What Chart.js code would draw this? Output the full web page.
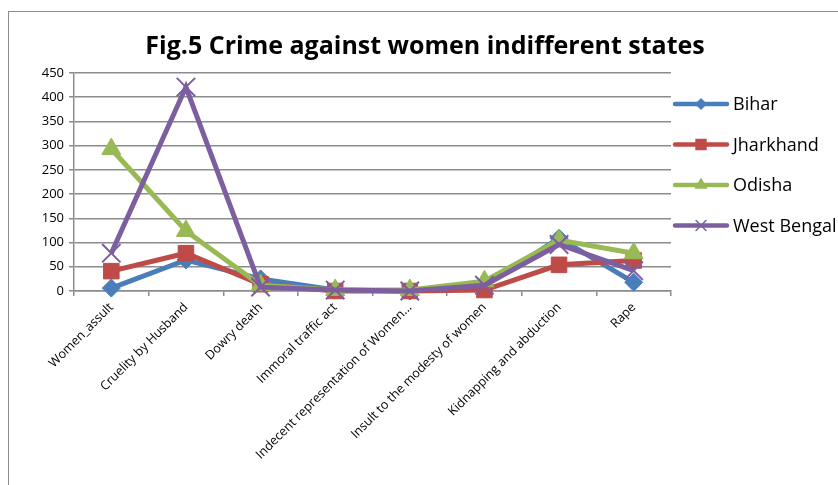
<!DOCTYPE html>
<html lang="en">
<head>
  <meta charset="UTF-8">
  <title>Crime against women</title>
  <script src="https://cdn.jsdelivr.net/npm/chart.js"></script>
  <style>
    body {
      margin: 0;
      background: #ffffff;
      overflow: hidden;
    }
    #wrap {
      position: relative;
      width: 838px;
      height: 485px;
    }
    #frame {
      position: absolute;
      left: 8px;
      top: 11px;
      width: 900px;
      height: 500px;
      border: 1.5px solid #8c8c8c;
    }
    canvas {
      position: absolute;
      left: 0;
      top: 0;
    }
  </style>
</head>
<body>
<div id="wrap">
  <div id="frame"></div>
  <canvas id="crimeChart" width="838" height="485"></canvas>
</div>

<script>
  const chartTitle = "Fig.5 Crime against women indifferent states";
  const categories = [
    "Women_assult",
    "Cruelity by Husband",
    "Dowry death",
    "Immoral traffic act",
    "Indecent representation of Women...",
    "Insult to the modesty of women",
    "Kidnapping and abduction",
    "Rape"
  ];
  const seriesNames = ["Bihar", "Jharkhand", "Odisha", "West Bengal"];
  const bihar      = [6, 64, 25, 2, 0, 10, 109, 18];
  const jharkhand  = [41, 78, 14, 0, 0, 2, 54, 63];
  const odisha     = [293, 124, 12, 2, 2, 20, 105, 78];
  const westBengal = [78, 421, 8, 2, 0, 12, 96, 42];
  const yTicks = [0, 50, 100, 150, 200, 250, 300, 350, 400, 450];

  const colors = ['#4a7ebb', '#be4b48', '#98b954', '#7d5fa0'];
  const markers = ['rectRot', 'rect', 'triangle', 'crossRot'];
  const markerSize = [9, 11, 11, 13];
  const legendMarkerSize = [5, 7, 6, 7];
  const allValues = [bihar, jharkhand, odisha, westBengal];

  const datasets = seriesNames.map((name, i) => ({
    label: name,
    data: allValues[i],
    borderColor: colors[i],
    backgroundColor: colors[i],
    borderWidth: 5,
    pointStyle: markers[i],
    pointRadius: markerSize[i],
    pointBorderWidth: markers[i] === 'crossRot' ? 2 : 1,
    pointBorderColor: colors[i],
    pointBackgroundColor: colors[i],
    tension: 0,
    clip: false,
    order: seriesNames.length - i
  }));

  // title and legend drawn by hand so they sit where the picture has them
  const decorations = {
    id: 'decorations',
    afterDraw(chart) {
      const ctx = chart.ctx;
      ctx.save();
      ctx.fillStyle = '#000';
      ctx.font = 'bold 25px "Open Sans"';
      ctx.textAlign = 'center';
      ctx.textBaseline = 'middle';
      ctx.fillText(chartTitle, 425, 47);

      ctx.font = '18px "Open Sans"';
      ctx.textAlign = 'left';
      chart.data.datasets.forEach((ds, i) => {
        const y = 104 + i * 40.5;
        ctx.strokeStyle = ds.borderColor;
        ctx.fillStyle = ds.borderColor;
        ctx.lineWidth = 4.5;
        ctx.lineCap = 'round';
        ctx.beginPath();
        ctx.moveTo(675, y);
        ctx.lineTo(727, y);
        ctx.stroke();
        ctx.lineWidth = 1.5;
        Chart.helpers.drawPoint(ctx, {
          pointStyle: ds.pointStyle,
          radius: legendMarkerSize[i],
          borderWidth: 1.5
        }, 701, y);
        ctx.fillStyle = '#000';
        ctx.fillText(ds.label, 733, y + 1);
      });
      ctx.restore();
    }
  };

  const ctx = document.getElementById("crimeChart").getContext("2d");
  new Chart(ctx, {
    type: 'line',
    data: {
      labels: categories,
      datasets: datasets
    },
    options: {
      responsive: false,
      animation: false,
      layout: {
        padding: { top: 73, right: 167, left: 0, bottom: 0 }
      },
      plugins: {
        legend: { display: false },
        title: { display: false },
        tooltip: { enabled: false }
      },
      scales: {
        x: {
          offset: true,
          afterFit(scale) { scale.height = 194; },
          grid: {
            offset: true,
            drawOnChartArea: false,
            drawTicks: true,
            tickLength: 5,
            color: '#8c8c8c',
            lineWidth: 1.5
          },
          border: { color: '#8c8c8c', width: 1.5 },
          ticks: {
            autoSkip: false,
            maxRotation: 45,
            minRotation: 45,
            color: '#000',
            padding: 4,
            font: { family: '"Open Sans"', size: 12.5 }
          }
        },
        y: {
          min: 0,
          max: 450,
          afterFit(scale) { scale.width = 74; },
          afterBuildTicks(scale) {
            scale.ticks = yTicks.map(v => ({ value: v }));
          },
          grid: {
            color: '#8c8c8c',
            lineWidth: 1.5,
            tickLength: 5
          },
          border: { color: '#8c8c8c', width: 1.5 },
          ticks: {
            color: '#000',
            padding: 5,
            font: { family: '"Open Sans"', size: 13 }
          }
        }
      }
    },
    plugins: [decorations]
  });
</script>
</body>
</html>
